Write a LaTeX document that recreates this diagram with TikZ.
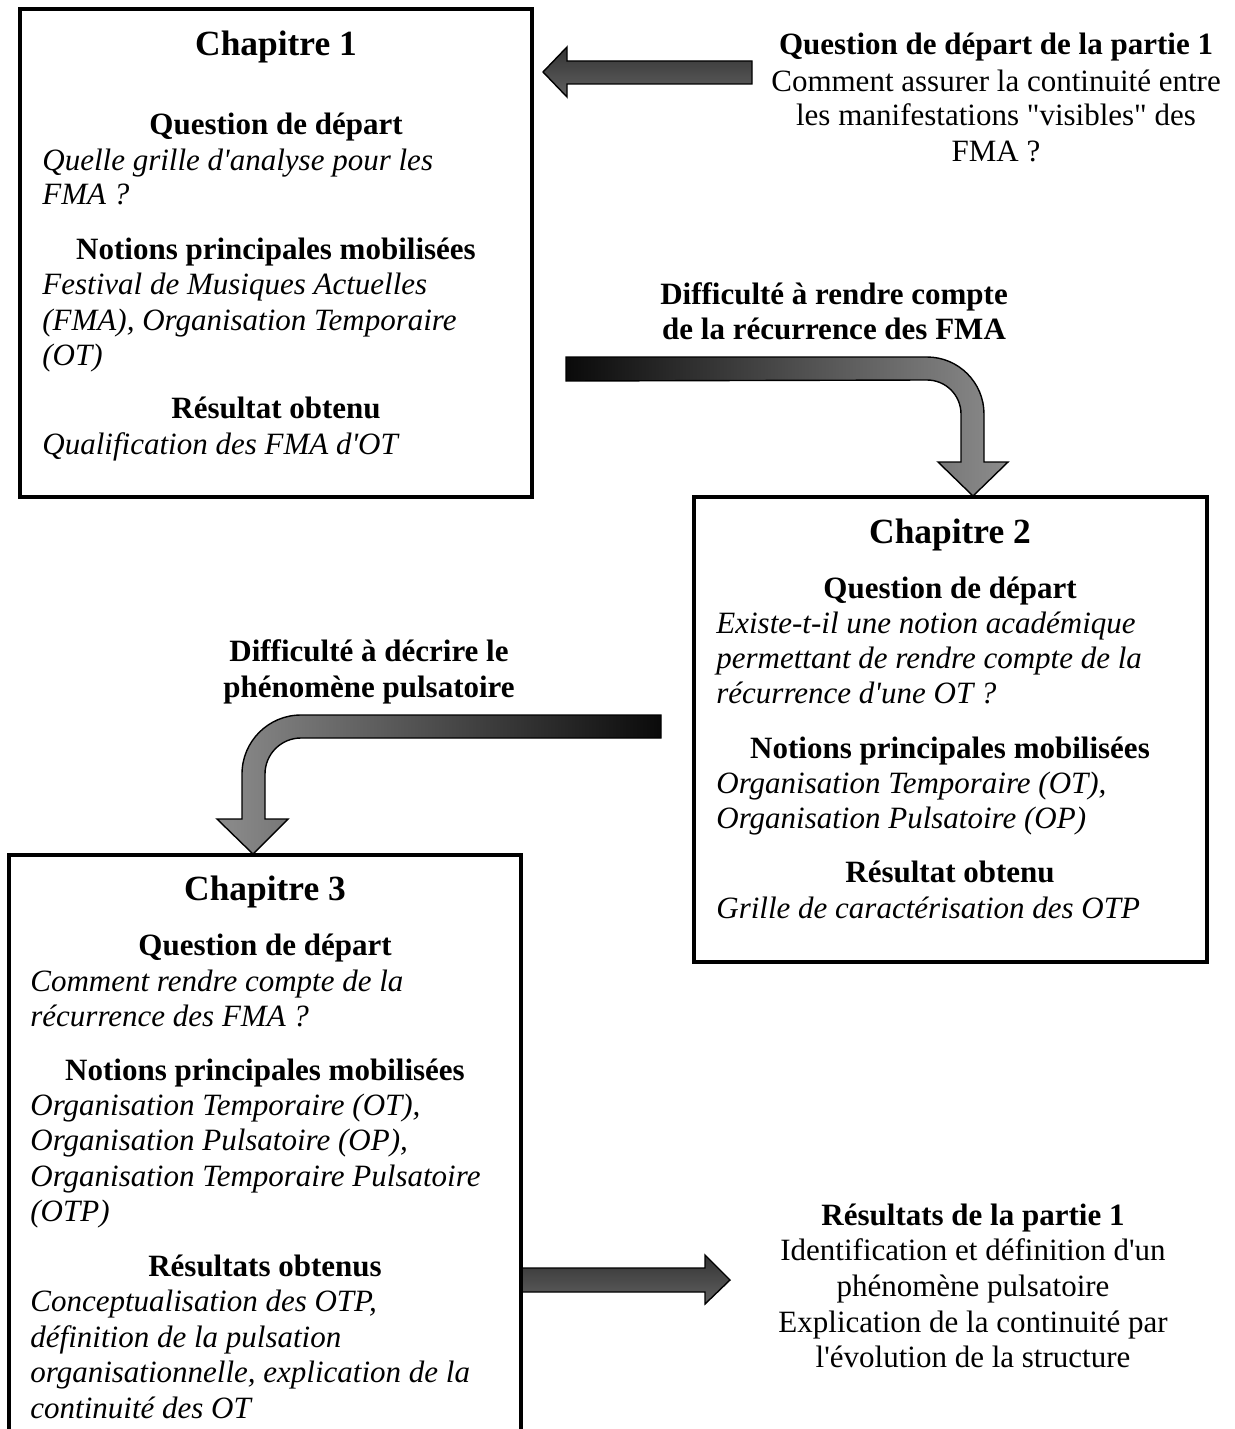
\documentclass[tikz,border=0pt]{standalone}
\usepackage{fontspec}
\setmainfont{Liberation Serif}[Ligatures=TeXOff]
\begin{document}
\begin{tikzpicture}[x=0.5pt,y=-0.5pt,
  boxst/.style={draw=black,line width=2pt,anchor=north west,inner sep=0pt,outer sep=0pt},
  hd/.style={inner sep=0pt,anchor=base,font=\fontsize{17.7}{20}\selectfont\bfseries},
  bh/.style={inner sep=0pt,anchor=base,font=\fontsize{15.5}{17.75}\selectfont\bfseries},
  rm/.style={inner sep=0pt,anchor=base,font=\fontsize{15.5}{17.75}\selectfont},
  itl/.style={inner sep=0pt,anchor=base west,font=\fontsize{15.5}{17.75}\selectfont\itshape},
  arr/.style={draw=black,line width=0.7pt,line join=miter},
  flat/.style={arr,top color=black!80,bottom color=black!62}]
\useasboundingbox (0,0) rectangle (1235,1429);
\clip (0,0) rectangle (1235,1429);

% ---------- block arrows ----------
\path[flat] (752,61) coordinate (a1s) -- (567,61) -- (567,47) -- (543,72) coordinate (a1t) -- (567,97) -- (567,84) -- (752,84) -- cycle;

\path[arr,left color=black!96,right color=black!45]
  (566,357) -- (927,357) arc[start angle=90,end angle=0,radius=28.5pt]
  -- (984,462) -- (1008,462) -- (973,496) coordinate (a2t) -- (938,462) -- (961,462)
  -- (961,414) arc[start angle=0,end angle=90,radius=17pt] -- (566,381) -- cycle;

\path[arr,left color=black!45,right color=black!96]
  (661,715) -- (301,715) arc[start angle=90,end angle=180,radius=29.5pt]
  -- (242,819) -- (217,819) -- (253,854) coordinate (a3t) -- (288,819) -- (265,819)
  -- (265,774) arc[start angle=180,end angle=90,radius=18pt] -- (661,738) -- cycle;

\path[flat] (521,1268) -- (705,1268) -- (705,1255) -- (730,1280) coordinate (a4t) -- (705,1304) -- (705,1292) -- (521,1292) -- cycle;

% ---------- boxes ----------
\node[boxst,minimum width=256pt,minimum height=244pt] (ch1) at (20,9) {};
\node[boxst,minimum width=256.5pt,minimum height=232.5pt] (ch2) at (694,497) {};
\node[boxst,minimum width=256pt,minimum height=330pt] (ch3) at (9,855) {};

% ---------- chapter 1 ----------
\node[hd] (c1t) at (276,56) {Chapitre 1};
\node[bh] (c1q) at (276,134) {Question de départ};
\node[itl] (c1q1) at (42,170) {Quelle grille d'analyse pour les};
\node[itl] (c1q2) at (42,204) {FMA ?};
\node[bh] (c1n) at (276,259) {Notions principales mobilisées};
\node[itl] (c1n1) at (42,294) {Festival de Musiques Actuelles};
\node[itl] (c1n2) at (42,330) {(FMA), Organisation Temporaire};
\node[itl] (c1n3) at (42,365) {(OT)};
\node[bh] (c1r) at (276,418) {Résultat obtenu};
\node[itl] (c1r1) at (42,454) {Qualification des FMA d'OT};

% ---------- chapter 2 ----------
\node[hd] (c2t) at (950,543) {Chapitre 2};
\node[bh] (c2q) at (950,598) {Question de départ};
\node[itl] (c2q1) at (716,633) {Existe-t-il une notion académique};
\node[itl] (c2q2) at (716,668) {permettant de rendre compte de la};
\node[itl] (c2q3) at (716,703) {récurrence d'une OT ?};
\node[bh] (c2n) at (950,758) {Notions principales mobilisées};
\node[itl] (c2n1) at (716,793) {Organisation Temporaire (OT),};
\node[itl] (c2n2) at (716,828) {Organisation Pulsatoire (OP)};
\node[bh] (c2r) at (950,882) {Résultat obtenu};
\node[itl] (c2r1) at (716,918) {Grille de caractérisation des OTP};

% ---------- chapter 3 ----------
\node[hd] (c3t) at (265,900) {Chapitre 3};
\node[bh] (c3q) at (265,955) {Question de départ};
\node[itl] (c3q1) at (30,991) {Comment rendre compte de la};
\node[itl] (c3q2) at (30,1026) {récurrence des FMA ?};
\node[bh] (c3n) at (265,1080) {Notions principales mobilisées};
\node[itl] (c3n1) at (30,1115) {Organisation Temporaire (OT),};
\node[itl] (c3n2) at (30,1150) {Organisation Pulsatoire (OP),};
\node[itl] (c3n3) at (30,1186) {Organisation Temporaire Pulsatoire};
\node[itl] (c3n4) at (30,1221) {(OTP)};
\node[bh] (c3r) at (265,1276) {Résultats obtenus};
\node[itl] (c3r1) at (30,1311) {Conceptualisation des OTP,};
\node[itl] (c3r2) at (30,1347) {définition de la pulsation};
\node[itl] (c3r3) at (30,1382) {organisationnelle, explication de la};
\node[itl] (c3r4) at (30,1418) {continuité des OT};

% ---------- side texts ----------
\node[bh] (p1) at (996,55) {Question de départ de la partie 1};
\node[rm] (p2) at (996,91) {Comment assurer la continuité entre};
\node[rm] (p3) at (996,126) {les manifestations "visibles" des};
\node[rm] (p4) at (996,162) {FMA ?};

\node[bh] (d1) at (834,304) {Difficulté à rendre compte};
\node[bh] (d2) at (834,339) {de la récurrence des FMA};

\node[bh] (e1) at (369,661) {Difficulté à décrire le};
\node[bh] (e2) at (369,697) {phénomène pulsatoire};

\node[bh] (r1) at (973,1225) {Résultats de la partie 1};
\node[rm] (r2) at (973,1260) {Identification et définition d'un};
\node[rm] (r3) at (973,1296) {phénomène pulsatoire};
\node[rm] (r4) at (973,1332) {Explication de la continuité par};
\node[rm] (r5) at (973,1367) {l'évolution de la structure};
\end{tikzpicture}
\end{document}
